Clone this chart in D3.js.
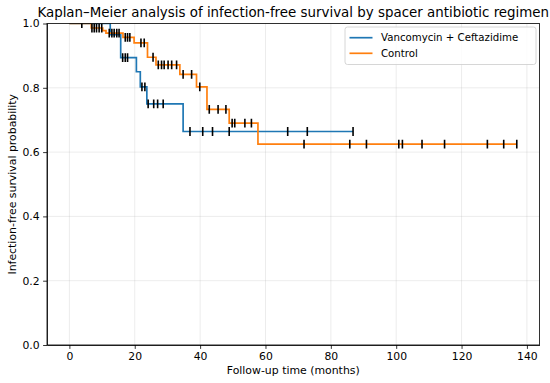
<!DOCTYPE html>
<meta charset="utf-8">
<script src="https://d3js.org/d3.v7.min.js"></script>
<style>
    body { margin: 0; font-family: "DejaVu Sans", sans-serif; background: white; }
    .grid line { stroke: #b0b0b0; stroke-opacity: 0.3; stroke-width: 0.8; }
    .axis path, .axis line { stroke: #000; stroke-width: 0.8; }
    .axis text { font-size: 10.8px; fill: #000; font-family: "DejaVu Sans", sans-serif; }
</style>
<div id="viz_area"></div>
<script>
    // group: Vancomycin + Ceftazidime
    var vancoTimes = [0, 12.5, 15.7, 20.5, 21.7, 23.7, 34.8]
    var vancoSurv = [1.0, 0.965, 0.894, 0.850, 0.803, 0.750, 0.664]
    var vancoCensor = [16.3, 17.1, 17.8, 22.2, 23.1, 24.1, 25.8, 27.0, 28.7,
        36.9, 40.8, 43.8, 48.9, 66.8, 72.8, 86.8]
    var vancoEnd = 86.8

    // group: Control
    var ctrlTimes = [0, 6.7, 10.2, 11.2, 16.4, 19.8, 23.9, 26.5, 33.8, 38.9, 42.1, 48.9, 57.7]
    var ctrlSurv = [1.0, 0.986, 0.978, 0.970, 0.957, 0.940, 0.895, 0.871, 0.842, 0.803, 0.733, 0.690, 0.625]
    var ctrlCensor = [3.8, 6.9, 7.6, 8.3, 9.1, 9.9, 12.2, 13.0, 13.7, 14.5, 15.2, 17.1, 17.8, 18.5,
        21.9, 22.9, 25.6, 27.2, 28.2, 29.0, 30.2, 31.3, 32.8, 34.8, 37.4, 39.9, 42.8, 45.5, 47.9,
        49.8, 50.6, 53.7, 55.7, 71.8, 85.8, 90.9, 100.8, 101.9, 107.9, 114.8, 127.9, 132.9, 136.9]
    var ctrlEnd = 136.9

    var xTicks = [0, 20, 40, 60, 80, 100, 120, 140]
    var yTicks = [0, 0.2, 0.4, 0.6, 0.8, 1.0]

    var groups = [
        { name: "Vancomycin + Ceftazidime", color: "#1f77b4", times: vancoTimes, surv: vancoSurv, censor: vancoCensor, end: vancoEnd },
        { name: "Control", color: "#ff7f0e", times: ctrlTimes, surv: ctrlSurv, censor: ctrlCensor, end: ctrlEnd }
    ]

    var W = 550, H = 383
    var margin = { left: 47, top: 23.5, right: 10.5, bottom: 38 }
    var w = W - margin.left - margin.right
    var h = H - margin.top - margin.bottom

    var svg = d3.select("#viz_area").append("svg")
        .attr("width", W)
        .attr("height", H)
    var g = svg.append("g")
        .attr("transform", "translate(" + margin.left + "," + margin.top + ")")

    var x = d3.scaleLinear().domain([-6.85, 143.85]).range([0, w])
    var y = d3.scaleLinear().domain([0, 1]).range([h, 0])

    svg.append("defs").append("clipPath").attr("id", "clip")
        .append("rect").attr("width", w).attr("height", h)

    // grid
    g.append("g").attr("class", "grid")
        .selectAll("line.gx").data(xTicks).enter().append("line")
        .attr("x1", function(d) { return x(d) }).attr("x2", function(d) { return x(d) })
        .attr("y1", 0).attr("y2", h)
    g.append("g").attr("class", "grid")
        .selectAll("line.gy").data(yTicks).enter().append("line")
        .attr("x1", 0).attr("x2", w)
        .attr("y1", function(d) { return y(d) }).attr("y2", function(d) { return y(d) })

    var plot = g.append("g").attr("clip-path", "url(#clip)")

    function survAt(grp, t) {
        var s = grp.surv[0]
        for (var i = 0; i < grp.times.length; i++) {
            if (grp.times[i] <= t) s = grp.surv[i]
        }
        return s
    }

    var line = d3.line()
        .x(function(d) { return x(d[0]) })
        .y(function(d) { return y(d[1]) })
        .curve(d3.curveStepAfter)

    groups.forEach(function(grp) {
        var pts = grp.times.map(function(t, i) { return [t, grp.surv[i]] })
        pts.push([grp.end, grp.surv[grp.surv.length - 1]])
        plot.append("path")
            .datum(pts)
            .attr("fill", "none")
            .attr("stroke", grp.color)
            .attr("stroke-width", 1.7)
            .attr("d", line)

        plot.selectAll(null)
            .data(grp.censor)
            .enter().append("line")
            .attr("x1", function(d) { return x(d) })
            .attr("x2", function(d) { return x(d) })
            .attr("y1", function(d) { return y(survAt(grp, d)) - 4.4 })
            .attr("y2", function(d) { return y(survAt(grp, d)) + 4.4 })
            .attr("stroke", "#000")
            .attr("stroke-width", 1.6)
    })

    // axes
    g.append("g").attr("class", "axis")
        .attr("transform", "translate(0," + h + ")")
        .call(d3.axisBottom(x).tickValues(xTicks).tickSize(3.9).tickPadding(3.5).tickSizeOuter(0))
    g.append("g").attr("class", "axis")
        .call(d3.axisLeft(y).tickValues(yTicks).tickSize(3.9).tickPadding(3.5).tickSizeOuter(0)
            .tickFormat(d3.format(".1f")))

    // frame
    g.append("rect")
        .attr("width", w).attr("height", h)
        .attr("fill", "none").attr("stroke", "#000").attr("stroke-width", 0.8)

    // labels
    svg.append("text")
        .attr("x", margin.left + w / 2).attr("y", 16.5)
        .attr("text-anchor", "middle")
        .attr("font-size", "13.4px")
        .text("Kaplan\u2013Meier analysis of infection-free survival by spacer antibiotic regimen")
    svg.append("text")
        .attr("x", margin.left + w / 2).attr("y", 374)
        .attr("text-anchor", "middle")
        .attr("font-size", "10.9px")
        .text("Follow-up time (months)")
    svg.append("text")
        .attr("transform", "translate(15.5," + (margin.top + h / 2) + ") rotate(-90)")
        .attr("text-anchor", "middle")
        .attr("font-size", "10.9px")
        .text("Infection-free survival probability")

    // legend
    var lg = svg.append("g").attr("transform", "translate(345,27)")
    lg.append("rect")
        .attr("width", 191).attr("height", 37.5).attr("rx", 2.5)
        .attr("fill", "white").attr("fill-opacity", 0.8)
        .attr("stroke", "#cccccc").attr("stroke-width", 0.8)
    groups.forEach(function(grp, i) {
        var yy = 10.7 + i * 15.6
        lg.append("line")
            .attr("x1", 4.5).attr("x2", 27.5).attr("y1", yy).attr("y2", yy)
            .attr("stroke", grp.color).attr("stroke-width", 1.7)
        lg.append("text")
            .attr("x", 36).attr("y", yy + 3.7)
            .attr("font-size", "10.2px")
            .text(grp.name)
    })
</script>
